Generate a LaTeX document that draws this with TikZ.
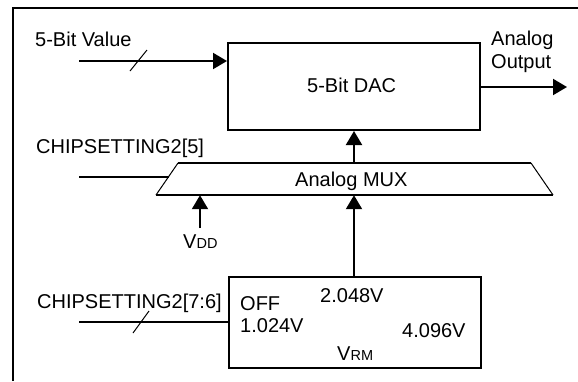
\documentclass[tikz,border=0pt]{standalone}
\usepackage{fontspec}
\setmainfont{Liberation Sans}
\usetikzlibrary{arrows.meta}
\begin{document}
\begin{tikzpicture}[x=1pt,y=-1pt,
  every node/.style={font=\fontsize{20}{23}\selectfont, inner sep=0pt},
  box/.style={draw, line width=2pt, minimum width=252pt},
  lbl/.style={anchor=base west},
  wire/.style={line width=2pt},
  arr/.style={line width=2pt, -{Triangle[length=14pt,width=16pt]}},
  thinline/.style={line width=1pt}]
\useasboundingbox (0,0) rectangle (578,381);
% frame
\draw[wire] (13,381) -- (13,8) -- (578,8);
% DAC
\node[box, minimum height=87pt] (dac) at (354,86.5) {};
\node[lbl] (daclbl) at (307,92) {5-Bit DAC};
% input
\node[lbl] (in5lbl) at (35,46) {5-Bit Value};
\coordinate (in5) at (79,61);
\draw[arr] (in5) -- (in5 -| dac.west);
\draw[thinline] (130,71) -- (147,50);
% output
\node[lbl] (outlbl1) at (491,45) {Analog};
\node[lbl] (outlbl2) at (491,68) {Output};
\coordinate (out) at (567,87);
\draw[arr] (out -| dac.east) -- (out);
% MUX
\node[minimum width=397pt, minimum height=32pt] (mux) at (354.5,179) {};
\draw[wire] (178,163) -- (531,163);
\draw[wire] (156,195) -- (553,195);
\draw[thinline] (178,163) -- (156,195);
\draw[thinline] (531,163) -- (553,195);
\node[lbl] (muxlbl) at (295,186.5) {Analog MUX};
\draw[arr] (mux.north -| dac.south) -- (dac.south);
% CHIPSETTING2[5]
\node[lbl] (c5lbl) at (36,153) {CHIPSETTING2[5]};
\coordinate (c5) at (79,177);
\draw[wire] (c5) -- (168.5,177);
% VDD
\node[lbl] (vdd) at (183,248) {V{\fontsize{14.5}{14.5}\selectfont DD}};
\coordinate (vddtop) at (200,228);
\draw[arr] (vddtop) -- (vddtop |- mux.south);
% VRM
\node[box, minimum height=91pt] (vrm) at (355,322.5) {};
\draw[arr] (vrm.north -| dac.south) -- (mux.south -| dac.south);
\node[lbl] (offlbl) at (240,310) {OFF};
\node[lbl] (v2lbl) at (320,302) {2.048V};
\node[lbl] (v1lbl) at (240,332) {1.024V};
\node[lbl] (v4lbl) at (402,337) {4.096V};
\node[lbl] (vrmlbl) at (337,360) {V{\fontsize{14.5}{14.5}\selectfont RM}};
% CHIPSETTING2[7:6]
\node[lbl] (c76lbl) at (37,308) {CHIPSETTING2[7:6]};
\coordinate (c76) at (79,322);
\draw[wire] (c76) -- (c76 -| vrm.west);
\draw[thinline] (133,333) -- (149,311);
\end{tikzpicture}
\end{document}
